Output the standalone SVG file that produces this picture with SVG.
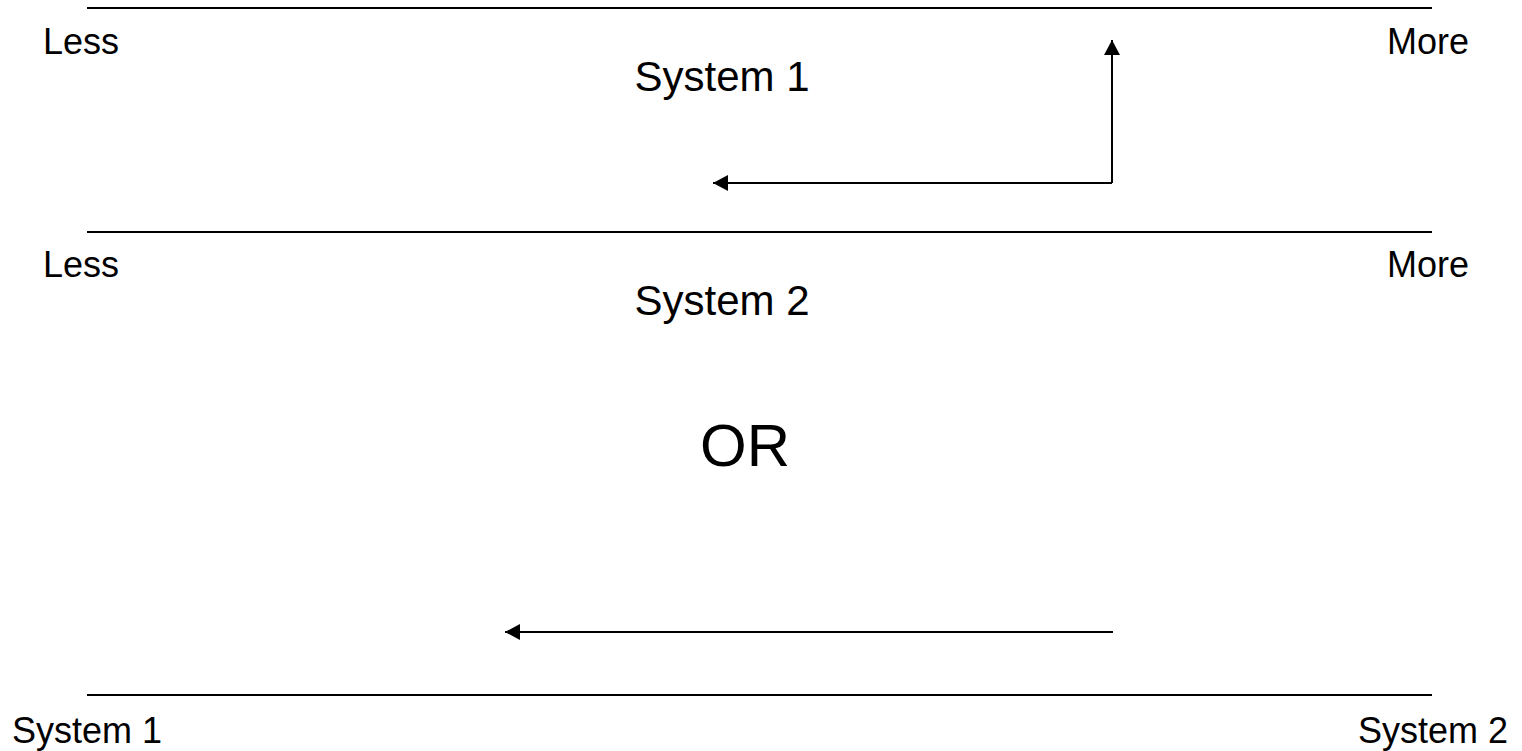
<svg xmlns="http://www.w3.org/2000/svg" width="1522" height="751" viewBox="0 0 1522 751">
<style>
text{font-family:"Liberation Sans",Arial,sans-serif;fill:#000}
.s{font-size:36px}
.m{font-size:42px}
.big{font-size:60px}
.ln{stroke:#000;stroke-width:2;fill:none}
</style>
<defs>
<marker id="ah" markerWidth="16" markerHeight="16" refX="15" refY="8" orient="auto" markerUnits="userSpaceOnUse">
<path d="M0,0 L15,8 L0,16 Z" fill="#000"/>
</marker>
</defs>
<rect width="1522" height="751" fill="#fff"/>
<g id="scale1">
<line class="ln" x1="87" y1="8" x2="1432" y2="8"/>
<text class="s" x="43" y="54">Less</text>
<text class="s" x="1387" y="54">More</text>
<text class="m" x="722" y="91" text-anchor="middle">System 1</text>
</g>
<g id="scale2">
<line class="ln" x1="87" y1="232" x2="1432" y2="232"/>
<text class="s" x="43" y="277">Less</text>
<text class="s" x="1387" y="277">More</text>
<text class="m" x="722" y="315" text-anchor="middle">System 2</text>
</g>
<g id="or">
<text class="big" x="745" y="466" text-anchor="middle">OR</text>
</g>
<g id="scale3">
<line class="ln" x1="87" y1="695" x2="1432" y2="695"/>
<text class="s" x="12" y="743">System 1</text>
<text class="s" x="1358" y="743">System 2</text>
</g>
<g id="connectors">
<polyline class="ln" points="1112,183 1112,40" marker-end="url(#ah)"/>
<polyline class="ln" points="1112,183 713,183" marker-end="url(#ah)"/>
<polyline class="ln" points="1113,632 505,632" marker-end="url(#ah)"/>
</g>
</svg>
